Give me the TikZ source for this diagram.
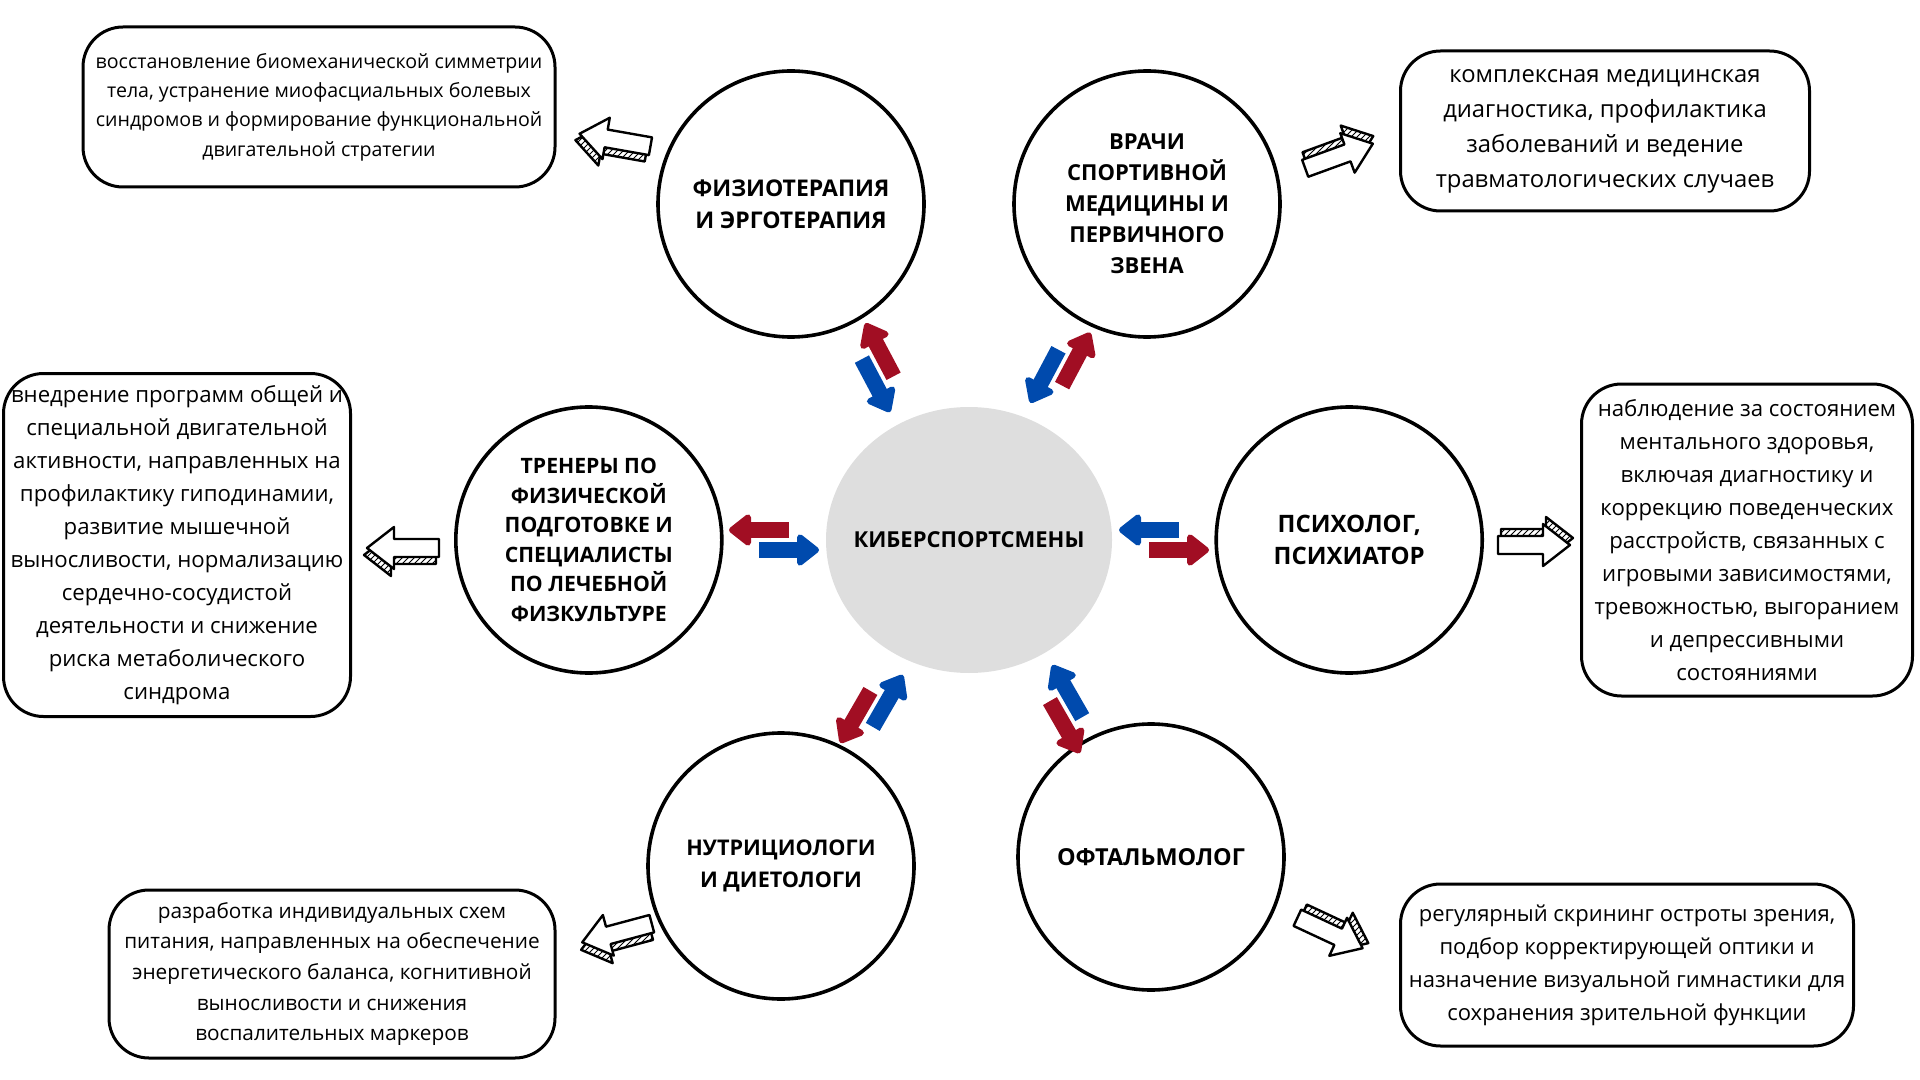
\documentclass[tikz,border=0pt]{standalone}
\usepackage{fontspec}
\setmainfont{Open Sans}
\usetikzlibrary{positioning,shapes.geometric,arrows.meta,calc,patterns}

\definecolor{arred}{HTML}{A10E23}
\definecolor{arblue}{HTML}{004AAD}
\definecolor{hubgray}{HTML}{DEDEDE}

% hand-drawn hollow arrow, #1 position, #2 angle
\newcommand{\sketcharrow}[2]{%
  \begin{scope}[shift={#1},rotate=#2,line width=1.2pt,line join=round]
    \draw[shift={(1.5pt,3.5pt)},pattern=north east lines]
      (-18pt,-4.5pt) -- (4.5pt,-4.5pt) -- (4.5pt,-10.5pt) -- (18pt,0pt)
      -- (4.5pt,10.5pt) -- (4.5pt,4.5pt) -- (-18pt,4.5pt) -- cycle;
    \draw[fill=white]
      (-18pt,-4.5pt) -- (4.5pt,-4.5pt) -- (4.5pt,-10.5pt) -- (18pt,0pt)
      -- (4.5pt,10.5pt) -- (4.5pt,4.5pt) -- (-18pt,4.5pt) -- cycle;
  \end{scope}}

\newcommand{\fsz}[2]{\fontsize{#1}{#2}\selectfont}

\begin{document}
\begin{tikzpicture}[x=0.5pt,y=-0.5pt,>={Triangle[length=12pt,width=18pt,round]},
    node distance=51pt,
    main node/.style={circle,draw,line width=1.8pt,minimum size=133pt,inner sep=0pt,
      align=center,font=\fsz{11}{15.5}\bfseries},
    hub node/.style={ellipse,fill=hubgray,minimum width=143pt,minimum height=133pt,
      inner sep=0pt,font=\fsz{11}{15.5}\bfseries},
    note/.style={rectangle,rounded corners=20pt,draw,line width=1.5pt,align=center,inner sep=0pt}]

  \useasboundingbox (0,0) rectangle (1920,1080);

  \node[hub node] (hub) at (969,540) {\makebox[0pt]{КИБЕРСПОРТСМЕНЫ}};
  \node[main node,font=\fsz{11.5}{16}\bfseries] (fizio) at (791,204) {ФИЗИОТЕРАПИЯ\\И ЭРГОТЕРАПИЯ};
  \node[main node] (vrachi) at (1147,204) {ВРАЧИ\\СПОРТИВНОЙ\\МЕДИЦИНЫ И\\ПЕРВИЧНОГО\\ЗВЕНА};
  \node[main node,font=\fsz{10.6}{14.8}\bfseries] (trener) [left=of hub] {ТРЕНЕРЫ ПО\\ФИЗИЧЕСКОЙ\\ПОДГОТОВКЕ И\\СПЕЦИАЛИСТЫ\\ПО ЛЕЧЕБНОЙ\\ФИЗКУЛЬТУРЕ};
  \node[main node,font=\fsz{12}{16}\bfseries] (psych) [right=of hub] {ПСИХОЛОГ,\\ПСИХИАТОР};
  \node[main node,font=\fsz{10.8}{15.8}\bfseries] (nutri) at (781,866) {НУТРИЦИОЛОГИ\\И ДИЕТОЛОГИ};
  \node[main node,font=\fsz{11.7}{16}\bfseries] (oftal) at (1151,857) {ОФТАЛЬМОЛОГ};

  \node[note,minimum width=236pt,minimum height=80pt,font=\fsz{9.8}{14.7}]
    (fizbox) at (319,107) {восстановление биомеханической симметрии\\тела, устранение миофасциальных болевых\\синдромов и формирование функциональной\\двигательной стратегии};
  \node[note,minimum width=204.5pt,minimum height=80pt,font=\fsz{11.9}{17.5}]
    (vrbox) at (1605,131) {комплексная медицинская\\диагностика, профилактика\\заболеваний и ведение\\травматологических случаев};
  \node[note,minimum width=173.5pt,minimum height=171.5pt,font=\fsz{11.1}{16.5}]
    (trbox) at (177,545) {внедрение программ общей и\\специальной двигательной\\активности, направленных на\\профилактику гиподинамии,\\развитие мышечной\\выносливости, нормализацию\\сердечно-сосудистой\\деятельности и снижение\\риска метаболического\\синдрома};
  \node[note,minimum width=165.5pt,minimum height=156pt,font=\fsz{11.1}{16.5}]
    (psbox) at (1747,540) {наблюдение за состоянием\\ментального здоровья,\\включая диагностику и\\коррекцию поведенческих\\расстройств, связанных с\\игровыми зависимостями,\\тревожностью, выгоранием\\и депрессивными\\состояниями};
  \node[note,minimum width=223pt,minimum height=84pt,font=\fsz{10.4}{15.3}]
    (nutbox) at (332,974) {разработка индивидуальных схем\\питания, направленных на обеспечение\\энергетического баланса, когнитивной\\выносливости и снижения\\воспалительных маркеров};
  \node[note,minimum width=226.5pt,minimum height=81pt,font=\fsz{11}{16.5}]
    (oftbox) at (1627,965) {регулярный скрининг остроты зрения,\\подбор корректирующей оптики и\\назначение визуальной гимнастики для\\сохранения зрительной функции};

  % red out, blue in
  \foreach \n in {fizio,vrachi,trener,psych,nutri,oftal} {
    \draw[->,arred,line width=8pt] ($(hub)!90pt!(\n)!5pt!-90:(\n)$) -- ($(hub)!120pt!(\n)!5pt!-90:(\n)$);
    \draw[->,arblue,line width=8pt] ($(hub)!105pt!(\n)!5pt!90:(\n)$) -- ($(hub)!75pt!(\n)!5pt!90:(\n)$);
  }

  \sketcharrow{(615,140)}{170}
  \sketcharrow{(1339,156)}{20}
  \sketcharrow{(403,548)}{180}
  \sketcharrow{(1534,545)}{0}
  \sketcharrow{(617,933)}{195}
  \sketcharrow{(1330,933)}{-25}

\end{tikzpicture}
\end{document}
